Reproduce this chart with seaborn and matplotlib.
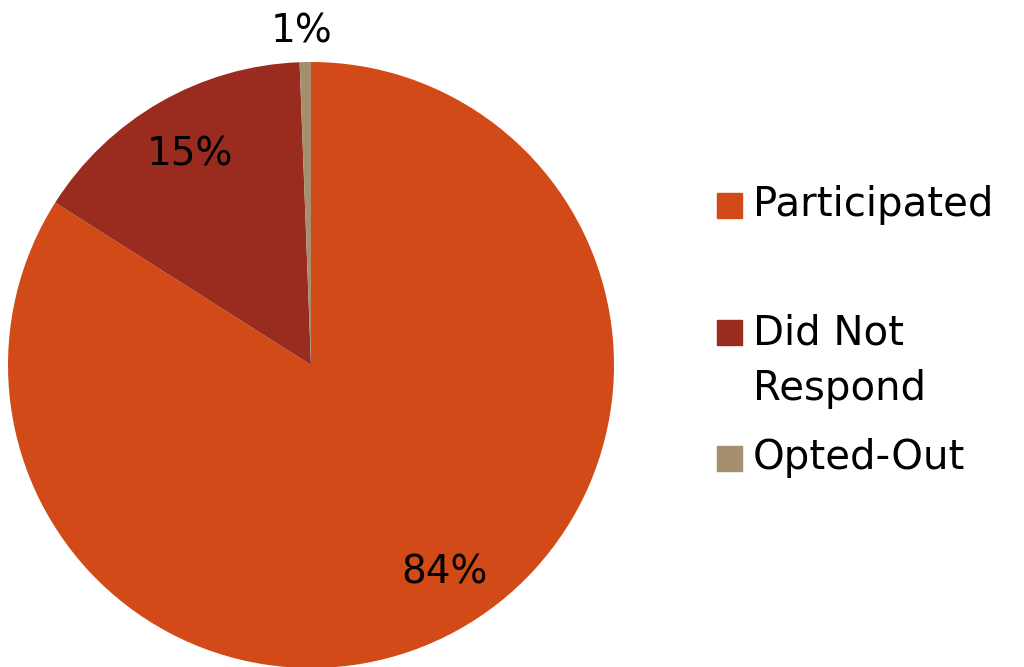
import numpy as np
import matplotlib.pyplot as plt
import matplotlib.patches as mpatches
import seaborn as sns

sns.set_style("white")
plt.rcParams['font.family'] = ['DejaVu Sans']

# Data
categories = ['Participated', 'Did Not\nRespond', 'Opted-Out']
shares = [84.0, 15.4, 0.6]
colors = ['#D24A17', '#9A2C1F', '#A68F6E']

fig = plt.figure(figsize=(10.24, 6.67), dpi=100)
ax = fig.add_axes([8 / 1024, -1 / 667, 606 / 1024, 606 / 667])

wedges, texts, autotexts = ax.pie(
    shares, colors=colors, startangle=90, counterclock=False,
    autopct='%.0f%%', pctdistance=0.8, radius=1,
    textprops=dict(fontsize=28, color='black'),
    wedgeprops=dict(linewidth=0),
)
ax.set_xlim(-1, 1)
ax.set_ylim(-1, 1)
ax.set_aspect('equal')

# nudge the big label a bit, small slice label goes outside
x0, y0 = autotexts[0].get_position()
autotexts[0].set_position((x0 + 0.055, y0 + 0.015))
w = wedges[-1]
mid = np.deg2rad((w.theta1 + w.theta2) / 2)
autotexts[-1].set_position((1.1 * np.cos(mid) - 0.01, 1.1 * np.sin(mid)))

# legend drawn by hand to match the spacing
leg_y = [0.692, 0.502, 0.313]
for lab, col, y in zip(categories, colors, leg_y):
    fig.patches.append(mpatches.Rectangle((717 / 1024, y - 0.019), 25 / 1024, 25 / 667,
                                          transform=fig.transFigure, color=col))
    if '\n' in lab:
        fig.text(753 / 1024, y + 0.028, lab, fontsize=29, va='top', linespacing=1.5,
                 color='black')
    else:
        fig.text(753 / 1024, y, lab, fontsize=29, va='center', color='black')

fig.savefig('out.png', dpi=100)
